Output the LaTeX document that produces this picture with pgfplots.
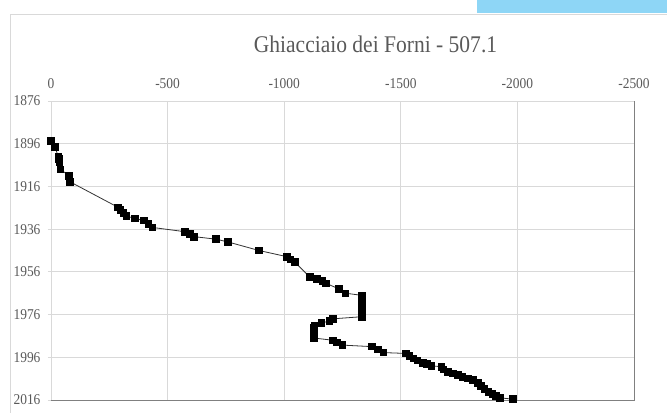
\documentclass[border=0pt]{standalone}
\usepackage{pgfplots}
\pgfplotsset{compat=1.18}
\usepackage{fontspec}
\setmainfont{Liberation Serif}[FakeStretch=0.9]
\definecolor{txt}{HTML}{595959}
\definecolor{grd}{HTML}{D9D9D9}
\definecolor{axl}{HTML}{808080}
\definecolor{sky}{HTML}{8ED6F6}
\begin{document}
\begin{tikzpicture}
\path[use as bounding box] (0,0) rectangle (667bp,413bp);
\fill[sky] (477bp,400bp) rectangle (667bp,413bp);
\draw[grd, line width=0.8bp] (10.5bp,0) -- (10.5bp,399bp) -- (667bp,399bp);
\node[anchor=base, text=txt, font=\fontsize{24}{28}\selectfont, inner sep=0] at (375.5bp,360bp) {Ghiacciaio dei Forni - 507.1};
\begin{axis}[
  at={(51bp,13bp)}, anchor=south west,
  width=583bp, height=299bp, scale only axis,
  x dir=reverse, y dir=reverse,
  xmin=-2500, xmax=0, ymin=1876, ymax=2016,
  xtick={0,-500,-1000,-1500,-2000,-2500},
  xticklabels={0,-500,-1000,-1500,-2000,-2500},
  ytick={1876,1896,1916,1936,1956,1976,1996,2016},
  yticklabels={1876,1896,1916,1936,1956,1976,1996,2016},
  xticklabel pos=top, xtick pos=top, ytick pos=left,
  grid=major, major grid style={grd, line width=0.8bp},
  axis line style={grd, line width=0.8bp},
  tick style={grd, line width=0.8bp},
  xtick style={draw=none},
  tick align=outside, major tick length=3bp,
  ticklabel style={text=txt, font=\fontsize{15}{17}\selectfont},
  xticklabel style={anchor=base, yshift=10bp},
  yticklabel style={anchor=east, xshift=-4bp},
  clip=false,
]
\addplot[color=black!80, line width=0.8bp, mark=square*, mark size=3.3pt,
  mark options={fill=black, draw=black, solid}] coordinates {
(0,1894.6) (-17,1897.4) (-31,1902) (-33,1903.2) (-36,1904.4) (-41,1908)
(-78,1911.1) (-81,1913.8)
(-288,1925.8) (-298,1927) (-310,1928.3) (-324,1929.9) (-361,1931) (-398,1932)
(-418,1933.6) (-435,1935.2)
(-574,1937.2) (-595,1938.3) (-613,1939.5) (-708,1940.7) (-759,1942)
(-892,1946) (-1012,1948.9) (-1027,1950.1) (-1045,1951.4)
(-1109,1958.3) (-1141,1959.4) (-1163,1960.3) (-1180,1961.4) (-1235,1964) (-1263,1966)
(-1333,1967) (-1333,1968) (-1333,1969) (-1333,1970) (-1333,1971) (-1333,1972)
(-1333,1973) (-1333,1974) (-1333,1975) (-1333,1976) (-1333,1977)
(-1208,1978) (-1194,1979) (-1159,1980) (-1130,1981)
(-1128,1982) (-1128,1983) (-1128,1984) (-1128,1985) (-1128,1986) (-1128,1987)
(-1208,1988) (-1225,1989) (-1250,1990.3)
(-1375,1991) (-1401,1992.3) (-1426,1993.8)
(-1523,1994.2) (-1537,1995.4) (-1554,1996.6) (-1572,1997.5) (-1594,1998.5)
(-1611,1999.2) (-1631,2000) (-1674,2000.4) (-1683,2001.7) (-1701,2002.8)
(-1723,2003.6) (-1744,2004.3) (-1765,2005.1) (-1787,2005.9) (-1808,2006.7)
(-1830,2007.9) (-1844,2009.5) (-1858,2010.9) (-1876,2012.2) (-1893,2013.2)
(-1908,2014.2) (-1925,2015) (-1981,2015.6)
};
\draw[axl, line width=0.8bp] (axis cs:0,2016) -- (axis cs:-2500,2016) -- (axis cs:-2500,1876);
\end{axis}
\end{tikzpicture}
\end{document}
